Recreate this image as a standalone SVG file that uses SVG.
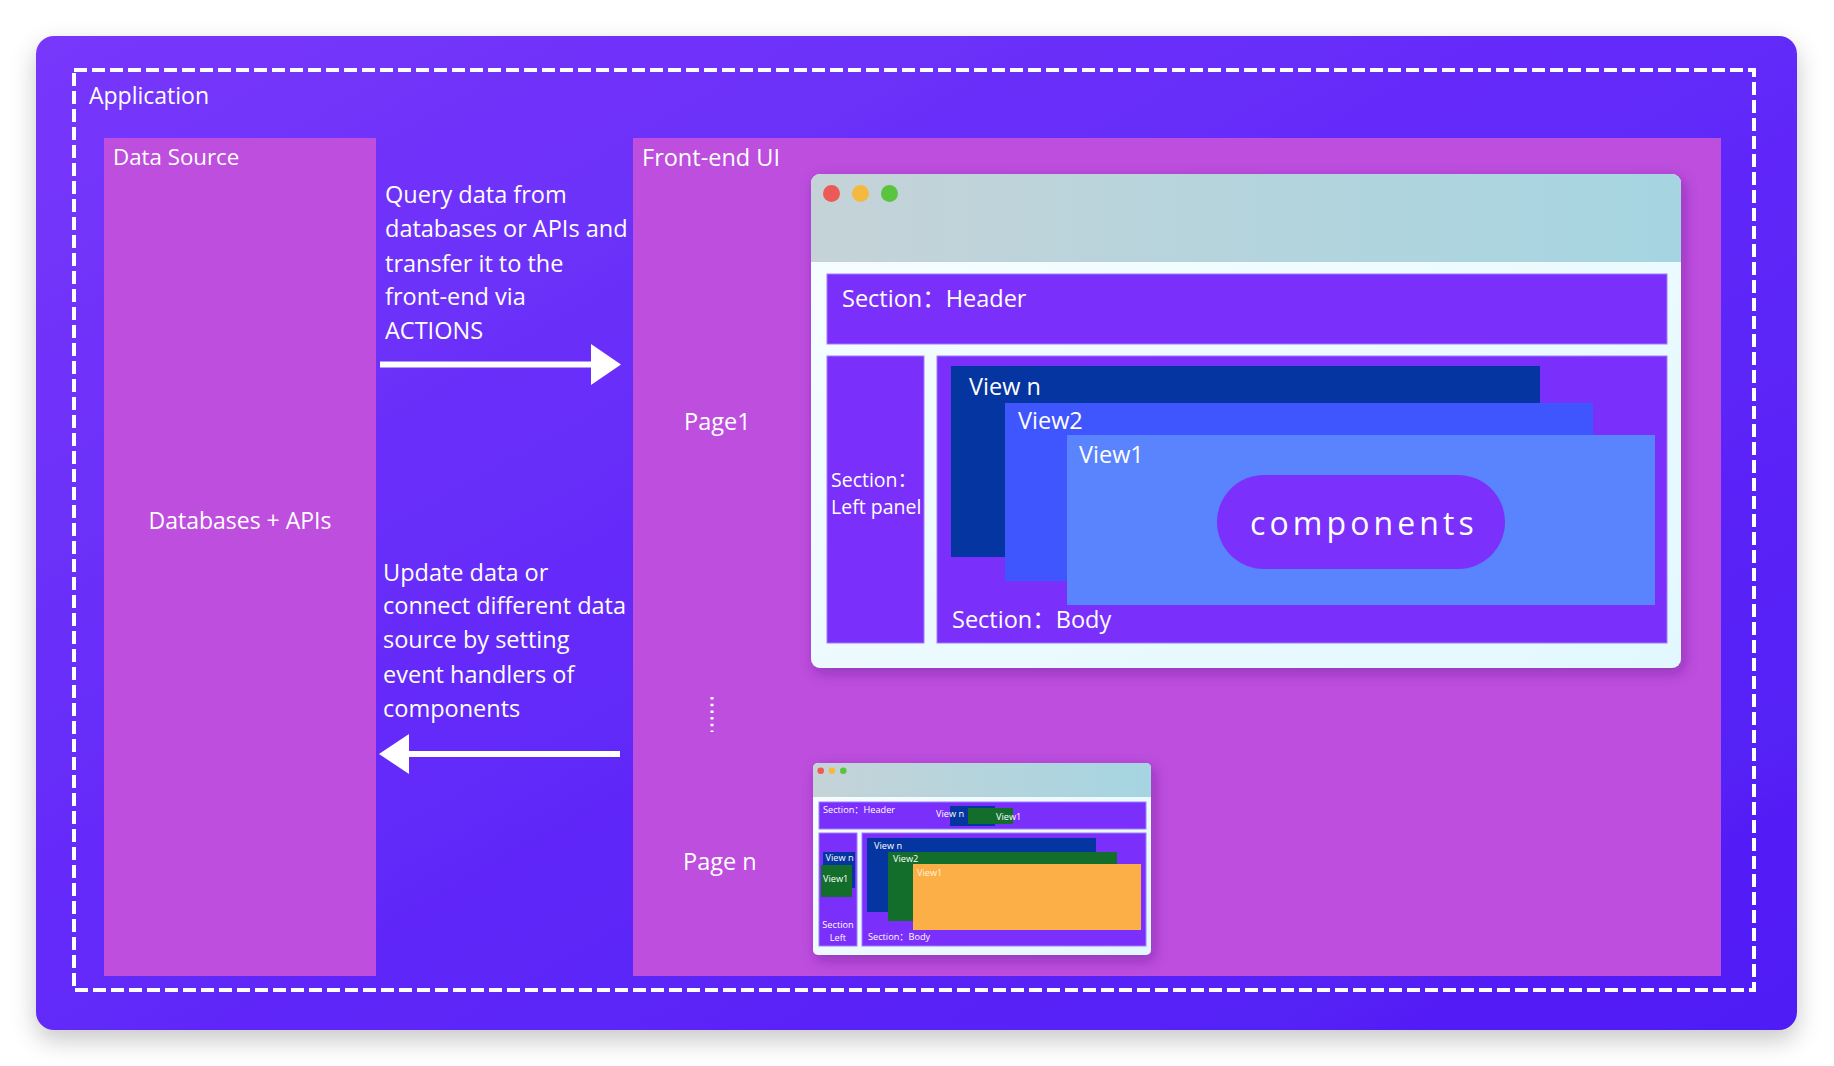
<svg xmlns="http://www.w3.org/2000/svg" width="1834" height="1066" viewBox="0 0 1834 1066">
  <defs>
    <linearGradient id="appBg" x1="0" y1="0" x2="1" y2="1">
      <stop offset="0" stop-color="#7737FA"/>
      <stop offset="0.55" stop-color="#6028F9"/>
      <stop offset="1" stop-color="#4F1CF5"/>
    </linearGradient>
    <linearGradient id="titleBar" x1="0" y1="0" x2="1" y2="0">
      <stop offset="0" stop-color="#C5D3D8"/>
      <stop offset="1" stop-color="#A5D5E1"/>
    </linearGradient>
    <linearGradient id="winBody" x1="0" y1="0" x2="1" y2="1">
      <stop offset="0" stop-color="#F7FDFF"/>
      <stop offset="1" stop-color="#E2F8FE"/>
    </linearGradient>
    <filter id="appShadow" x="-5%" y="-5%" width="110%" height="115%">
      <feDropShadow dx="0" dy="10" stdDeviation="12" flood-color="#000" flood-opacity="0.22"/>
    </filter>
    <filter id="winShadow" x="-5%" y="-5%" width="110%" height="115%">
      <feDropShadow dx="3" dy="5" stdDeviation="7" flood-color="#5a1a8a" flood-opacity="0.45"/>
    </filter>
    <style>
      .t { font-family: "Open Sans", "Noto Sans", "Noto Sans CJK SC", sans-serif; fill: #ffffff; }
      .lbl { font-size: 23.5px; }
      .note { font-size: 23.5px; }
      .sec { fill: #7B2FFB; stroke: #A07CFF; stroke-width: 1; }
      .panel { fill: #BD4EDE; }
      .tiny { font-size: 9.2px; }
    </style>
  </defs>

  <rect width="1834" height="1066" fill="#ffffff"/>

  <!-- application frame -->
  <g id="application">
    <rect x="36" y="36" width="1761" height="994" rx="18" fill="url(#appBg)" filter="url(#appShadow)"/>
    <rect x="74" y="70" width="1680" height="920" fill="none" stroke="#ffffff" stroke-width="4" stroke-dasharray="13 5"/>
    <text class="t" font-size="23" x="89" y="104">Application</text>
  </g>

  <!-- data source column -->
  <g id="data-source">
    <rect class="panel" x="104" y="138" width="272" height="838"/>
    <text class="t" font-size="22.3" x="113" y="165">Data Source</text>
    <text class="t" font-size="23" x="240" y="529" text-anchor="middle">Databases + APIs</text>
  </g>

  <!-- front-end column -->
  <g id="front-end-ui">
    <rect class="panel" x="633" y="138" width="1088" height="838"/>
    <text class="t lbl" x="642" y="166">Front-end UI</text>
    <text class="t lbl" x="684" y="430">Page1</text>
    <text class="t lbl" x="683" y="870">Page n</text>
    <line x1="712" y1="697" x2="712" y2="732" stroke="#ffffff" stroke-width="3" stroke-dasharray="2.5 4.2"/>
  </g>

  <!-- page 1 window -->
  <g id="page1-window">
    <rect x="811" y="174" width="870" height="494" rx="9" fill="url(#winBody)" filter="url(#winShadow)"/>
    <path d="M811 262 V183 a9 9 0 0 1 9 -9 H1672 a9 9 0 0 1 9 9 V262 Z" fill="url(#titleBar)"/>
    <circle cx="831.5" cy="193.5" r="8.5" fill="#EC5A55"/>
    <circle cx="860.5" cy="193.5" r="8.5" fill="#F4B940"/>
    <circle cx="889.5" cy="193.5" r="8.5" fill="#5AC43F"/>

    <g id="page1-header">
      <rect class="sec" x="827" y="274" width="840" height="70"/>
      <text class="t lbl" x="842" y="307">Section：Header</text>
    </g>
    <g id="page1-left-panel">
      <rect class="sec" x="827" y="356" width="97" height="287"/>
      <text class="t" font-size="19.5" x="831" y="487">Section：</text>
      <text class="t" font-size="19.5" x="831" y="514">Left panel</text>
    </g>
    <g id="page1-body">
      <rect class="sec" x="937" y="356" width="730" height="287"/>
      <text class="t lbl" x="952" y="628">Section：Body</text>
    </g>
    <g id="view-n">
      <rect x="951" y="366" width="589" height="191" fill="#0435A0"/>
      <text class="t lbl" x="969" y="395">View n</text>
    </g>
    <g id="view-2">
      <rect x="1005" y="403" width="588" height="178" fill="#3F55FD"/>
      <text class="t lbl" x="1018" y="429">View2</text>
    </g>
    <g id="view-1">
      <rect x="1067" y="435" width="588" height="170" fill="#5A83FE"/>
      <text class="t lbl" x="1079" y="463">View1</text>
    </g>
    <g id="components">
      <rect x="1217" y="475" width="288" height="94" rx="47" fill="#7B30FB"/>
      <text class="t" font-size="32" letter-spacing="4.1" x="1364" y="535" text-anchor="middle">components</text>
    </g>
  </g>

  <!-- page n window (thumbnail) -->
  <g id="page-n-window">
    <rect x="813" y="763" width="338" height="192" rx="5" fill="url(#winBody)" filter="url(#winShadow)"/>
    <path d="M813 797 V768 a5 5 0 0 1 5 -5 H1146 a5 5 0 0 1 5 5 V797 Z" fill="url(#titleBar)"/>
    <circle cx="820.7" cy="770.7" r="3.3" fill="#EC5A55"/>
    <circle cx="832" cy="770.7" r="3.3" fill="#F4B940"/>
    <circle cx="843.3" cy="770.7" r="3.3" fill="#5AC43F"/>

    <g id="pagen-header">
      <rect class="sec" x="819" y="802" width="327" height="27"/>
      <text class="t tiny" x="823" y="813">Section：Header</text>
      <rect x="950" y="806" width="45" height="20" fill="#0435A0"/>
      <text class="t tiny" x="936" y="817">View n</text>
      <rect x="968" y="808" width="45" height="16" fill="#136E2B"/>
      <text class="t tiny" x="996" y="820">View1</text>
    </g>
    <g id="pagen-left">
      <rect class="sec" x="819" y="833" width="38" height="113"/>
      <rect x="823" y="852" width="32" height="36" fill="#0435A0"/>
      <text class="t tiny" x="825.5" y="861">View n</text>
      <rect x="821" y="865" width="31" height="32" fill="#136E2B"/>
      <text class="t tiny" x="823" y="882">View1</text>
      <text class="t tiny" x="838" y="928" text-anchor="middle">Section</text>
      <text class="t tiny" x="838" y="941" text-anchor="middle">Left</text>
    </g>
    <g id="pagen-body">
      <rect class="sec" x="862" y="833" width="284" height="113"/>
      <rect x="867" y="838" width="229" height="74" fill="#0435A0"/>
      <text class="t tiny" x="874" y="849">View n</text>
      <rect x="888" y="852" width="229" height="69" fill="#136E2B"/>
      <text class="t tiny" x="893" y="862">View2</text>
      <rect x="913" y="864" width="228" height="66" fill="#FDAF47"/>
      <text class="t tiny" x="917" y="876" style="fill:#FFF3D6">View1</text>
      <text class="t tiny" x="868" y="940">Section：Body</text>
    </g>
  </g>

  <!-- data flow arrows and their notes -->
  <g id="connectors">
    <g id="query-arrow">
      <line x1="380" y1="364.5" x2="594" y2="364.5" stroke="#ffffff" stroke-width="6"/>
      <polygon points="591,344 621,364.5 591,385" fill="#ffffff"/>
      <text class="t note" x="385" y="203">Query data from</text>
      <text class="t note" x="385" y="237">databases or APIs and</text>
      <text class="t note" x="385" y="272">transfer it to the</text>
      <text class="t note" x="385" y="305">front-end via</text>
      <text class="t note" x="385" y="339">ACTIONS</text>
    </g>
    <g id="update-arrow">
      <line x1="405" y1="754" x2="620" y2="754" stroke="#ffffff" stroke-width="6"/>
      <polygon points="409,734 379,754 409,774" fill="#ffffff"/>
      <text class="t note" x="383" y="581">Update data or</text>
      <text class="t note" x="383" y="614">connect different data</text>
      <text class="t note" x="383" y="648">source by setting</text>
      <text class="t note" x="383" y="683">event handlers of</text>
      <text class="t note" x="383" y="717">components</text>
    </g>
  </g>
</svg>
